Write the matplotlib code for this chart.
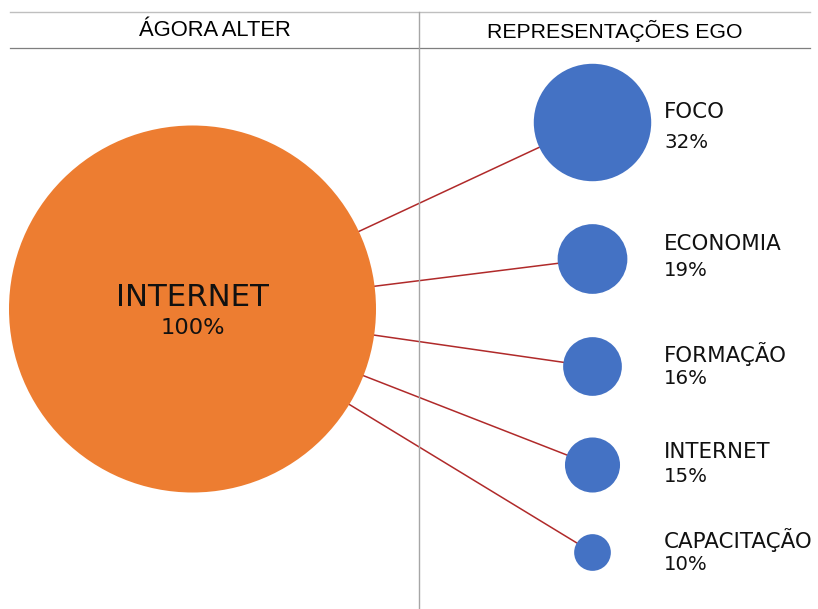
import matplotlib
matplotlib.use("Agg")
import matplotlib.pyplot as plt
from matplotlib.patches import Circle

# ---- data ----
alter_label = "INTERNET"
alter_value = 100
ego_labels = ["FOCO", "ECONOMIA", "FORMAÇÃO", "INTERNET", "CAPACITAÇÃO"]
ego_values = [32, 19, 16, 15, 10]
headers = ["ÁGORA ALTER", "REPRESENTAÇÕES EGO"]

# ---- layout (pixel space) ----
W, H = 818, 609
scale = 1.835            # px radius per percentage point
alter_center = (192.5, 309)
ego_x = 592.5
ego_y = [122.5, 259, 366.5, 465, 552.5]
label_x = 664
name_dy = [-10, -15, -13, -13, -13]
pct_dy = [20, 11, 12, 12, 12]

ORANGE = "#ED7D31"
BLUE = "#4472C4"
LINE = "#B02A2A"

fig = plt.figure(figsize=(W / 100, H / 100), dpi=100)
ax = fig.add_axes([0, 0, 1, 1])
ax.set_xlim(0, W)
ax.set_ylim(H, 0)
ax.set_aspect("equal")
ax.axis("off")

# header grid lines
ax.plot([10, 810], [12, 12], color="#BFBFBF", lw=1)
ax.plot([10, 810], [48, 48], color="#7F7F7F", lw=0.9)
ax.plot([419, 419], [12, H], color="#A6A6A6", lw=1)

hfont = ["Liberation Sans Narrow", "Liberation Sans"]
ax.text(214.5, 31, headers[0], ha="center", va="center", fontsize=15.8,
        family=hfont, color="#000000")
ax.text(614.5, 31, headers[1], ha="center", va="center", fontsize=15.3,
        family=hfont, color="#000000")

# connecting lines (center to center, drawn beneath circles)
for y in ego_y:
    ax.plot([alter_center[0], ego_x], [alter_center[1], y], color=LINE,
            lw=1.1, zorder=1)

# alter circle
ax.add_patch(Circle(alter_center, scale * alter_value, facecolor=ORANGE,
                    edgecolor="none", zorder=2))
ax.text(alter_center[0], 297, alter_label, ha="center", va="center",
        fontsize=22.2, family="DejaVu Sans", color="#111111", zorder=3)
ax.text(alter_center[0], 328, f"{alter_value}%", ha="center", va="center",
        fontsize=16.2, family="DejaVu Sans", color="#111111", zorder=3)

# ego circles
for lab, v, y, nd, pd in zip(ego_labels, ego_values, ego_y, name_dy, pct_dy):
    ax.add_patch(Circle((ego_x, y), scale * v, facecolor=BLUE,
                        edgecolor="none", zorder=2))
    ax.text(label_x, y + nd, lab, ha="left", va="center", fontsize=15.4,
            family="DejaVu Sans", color="#111111")
    ax.text(label_x, y + pd, f"{v}%", ha="left", va="center", fontsize=14.2,
            family="DejaVu Sans", color="#111111")

fig.savefig("out.png", dpi=100, facecolor="white")
